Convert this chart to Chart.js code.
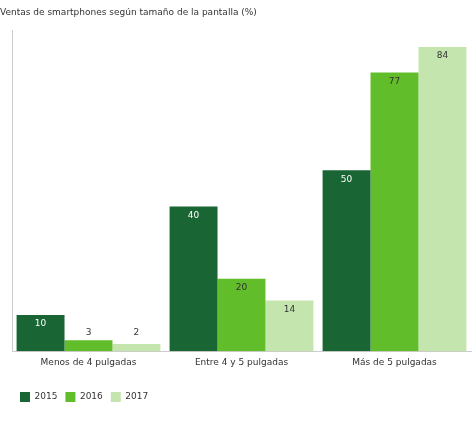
<!DOCTYPE html>
<html lang="es">

<head>
    <meta charset="UTF-8">
    <meta name="viewport" content="width=device-width, initial-scale=1.0">
    <title>Ventas de smartphones</title>
    <script src="https://cdn.jsdelivr.net/npm/chart.js"></script>
    <style>
        body { margin: 0; background: #fff; }
        .grafico { width: 475px; height: 426px; }
    </style>
</head>

<body>
    <div class="grafico">
        <canvas id="graficoVentas"></canvas>
    </div>

<script>
    const categorias = ['Menos de 4 pulgadas', 'Entre 4 y 5 pulgadas', 'Más de 5 pulgadas']
    const anos = ['2015', '2016', '2017']
    const ventas2015 = [10, 40, 50]
    const ventas2016 = [3, 20, 77]
    const ventas2017 = [2, 14, 84]
    const colores = ['#1a6534', '#62bd2a', '#c4e6ae']

    const fuente = 'DejaVu Sans, Verdana, sans-serif'

    // etiquetas de valor dentro de la barra (o encima si la barra es baja)
    const etiquetas = {
        id: 'etiquetas',
        afterDatasetsDraw(chart) {
            const ctx = chart.ctx
            ctx.save()
            ctx.font = '9px ' + fuente
            ctx.textAlign = 'center'
            ctx.textBaseline = 'middle'
            chart.data.datasets.forEach(function (ds, i) {
                const meta = chart.getDatasetMeta(i)
                meta.data.forEach(function (bar, j) {
                    let y = bar.y + 9
                    if (y > bar.base - 19) y = bar.base - 19
                    ctx.fillStyle = i === 0 ? '#ffffff' : '#333333'
                    ctx.fillText(ds.data[j], bar.x, y)
                })
            })
            ctx.restore()
        }
    }

    // mover la leyenda un poco hacia la derecha
    const moverLeyenda = {
        id: 'moverLeyenda',
        afterLayout(chart) {
            if (chart.legend) chart.legend.left += 12
        }
    }

    const graficoVentas = document.getElementById('graficoVentas')

    new Chart(graficoVentas, {
        type: 'bar',
        data: {
            labels: categorias,
            datasets: [
                { label: anos[0], data: ventas2015, backgroundColor: colores[0] },
                { label: anos[1], data: ventas2016, backgroundColor: colores[1] },
                { label: anos[2], data: ventas2017, backgroundColor: colores[2] }
            ]
        },
        options: {
            responsive: true,
            maintainAspectRatio: false,
            animation: false,
            datasets: {
                bar: { barPercentage: 1, categoryPercentage: 0.94, borderWidth: 0 }
            },
            layout: { padding: { left: 0, right: 4, top: 0, bottom: 14 } },
            scales: {
                x: {
                    grid: { display: false, drawTicks: false },
                    border: { display: true, color: '#cccccc' },
                    ticks: { color: '#333333', font: { family: fuente, size: 9 }, padding: 6 },
                    afterFit: function (s) { s.height += 10 }
                },
                y: {
                    min: 0,
                    max: 88.5,
                    grid: { display: false, drawTicks: false },
                    border: { display: true, color: '#cccccc' },
                    ticks: { display: false },
                    afterFit: function (s) { s.width = 12 }
                }
            },
            plugins: {
                title: {
                    display: true,
                    text: 'Ventas de smartphones según tamaño de la pantalla (%)',
                    align: 'start',
                    color: '#333333',
                    font: { family: fuente, size: 9, weight: 'normal' },
                    padding: { top: 7, bottom: 13 }
                },
                legend: {
                    position: 'bottom',
                    align: 'start',
                    labels: {
                        boxWidth: 10,
                        boxHeight: 10,
                        padding: 8,
                        color: '#333333',
                        font: { family: fuente, size: 9 }
                    }
                },
                tooltip: { enabled: false }
            }
        },
        plugins: [etiquetas, moverLeyenda]
    })
</script>
</body>

</html>
